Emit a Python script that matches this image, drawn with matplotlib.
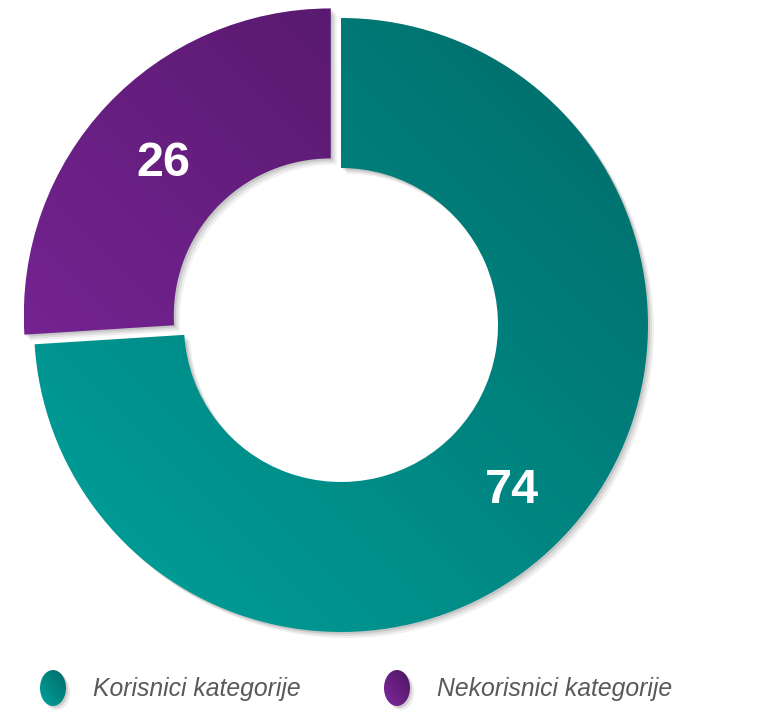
import numpy as np
import matplotlib
matplotlib.use("Agg")
import matplotlib.pyplot as plt
from matplotlib.patches import Wedge, Ellipse
from matplotlib.colors import to_rgb

# --------------------------------
# DATA
# --------------------------------
labels = ["Korisnici kategorije", "Nekorisnici kategorije"]
values = [74, 26]
# gradient colours (light bottom-left -> dark top-right)
light_colors = ["#00a29c", "#8128a0"]
dark_colors = ["#006a68", "#4c1560"]
explode = [0, 14]

# --------------------------------
# LAYOUT (pixel units, y up)
# --------------------------------
W, H = 765, 720
cx, cy = 341, 395
r_out, r_in = 307, 157

fig = plt.figure(figsize=(W / 100, H / 100), dpi=100)
ax = fig.add_axes([0, 0, 1, 1])
ax.set_xlim(0, W)
ax.set_ylim(0, H)
ax.set_aspect("equal")
ax.axis("off")


def gradient_image(c_light, c_dark, extent):
    n = 200
    xs = np.linspace(0, 1, n)
    ys = np.linspace(0, 1, n)
    gx, gy = np.meshgrid(xs, ys)
    t = np.clip((gx + gy) / 2, 0, 1)  # 0 bottom-left, 1 top-right
    a = np.array(to_rgb(c_light))
    b = np.array(to_rgb(c_dark))
    img = a[None, None, :] * (1 - t[..., None]) + b[None, None, :] * t[..., None]
    return ax.imshow(img, extent=extent, origin="lower", interpolation="bilinear", zorder=2)


total = sum(values)
# teal starts at top and goes clockwise, purple fills the rest
start = 90
for i, v in enumerate(values):
    sweep = 360 * v / total
    if i == 0:
        t1, t2 = start - sweep, start
    else:
        t1, t2 = start, start + sweep
    mid = np.deg2rad((t1 + t2) / 2)
    ox = explode[i] * np.cos(mid)
    oy = explode[i] * np.sin(mid)
    c = (cx + ox, cy + oy)

    # soft shadow
    for k, a in [(6, 0.06), (4, 0.08), (2, 0.1)]:
        sh = Wedge((c[0] + k, c[1] - k), r_out, t1, t2, width=r_out - r_in,
                   facecolor="black", edgecolor="none", alpha=a, zorder=1)
        ax.add_patch(sh)

    wedge = Wedge(c, r_out, t1, t2, width=r_out - r_in, facecolor="none",
                  edgecolor="none", zorder=3)
    ax.add_patch(wedge)
    im = gradient_image(light_colors[i], dark_colors[i],
                        (c[0] - r_out, c[0] + r_out, c[1] - r_out, c[1] + r_out))
    im.set_clip_path(wedge)

    rl = (r_out + r_in) / 2
    ax.text(c[0] + rl * np.cos(mid) + 2, c[1] + rl * np.sin(mid) - 7, str(v),
            ha="center", va="center", color="white", fontsize=35,
            fontweight="bold", family="Liberation Sans", zorder=5)

# --------------------------------
# LEGEND
# --------------------------------
leg_x = [53, 397]
leg_y = 32
for i, lab in enumerate(labels):
    for k, a in [(4, 0.08), (2, 0.12)]:
        ax.add_patch(Ellipse((leg_x[i] + k, leg_y - k), 26, 36,
                             facecolor="black", edgecolor="none", alpha=a, zorder=1))
    el = Ellipse((leg_x[i], leg_y), 26, 36, facecolor="none", edgecolor="none", zorder=3)
    ax.add_patch(el)
    im = gradient_image(light_colors[i], dark_colors[i],
                        (leg_x[i] - 13, leg_x[i] + 13, leg_y - 18, leg_y + 18))
    im.set_clip_path(el)
    ax.text(leg_x[i] + 40, leg_y - 1, lab, ha="left", va="center", color="#595959",
            fontsize=17.8, style="italic", family="Liberation Sans", zorder=5)

ax.set_xlim(0, W)
ax.set_ylim(0, H)

fig.savefig("out.png", dpi=100, facecolor="white")
